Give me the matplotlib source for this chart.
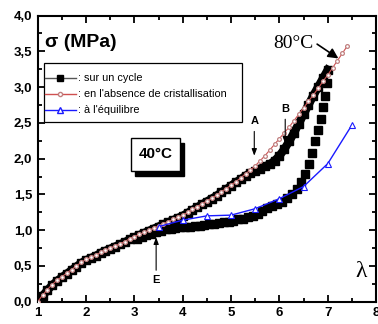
import matplotlib
matplotlib.use('Agg')
import matplotlib.pyplot as plt
from matplotlib.ticker import MultipleLocator, FuncFormatter
from matplotlib.patches import Rectangle
from matplotlib.lines import Line2D

plt.rcParams['font.family'] = ['Liberation Sans', 'DejaVu Sans']

# absence de cristallisation (red circles)
x_abs = [1.0, 1.1, 1.2, 1.3, 1.4, 1.5, 1.6, 1.7, 1.8, 1.9, 2.0, 2.1, 2.2, 2.3, 2.4, 2.5,
         2.6, 2.7, 2.8, 2.9, 3.0, 3.1, 3.2, 3.3, 3.4, 3.5, 3.6, 3.7, 3.8, 3.9, 4.0, 4.1,
         4.2, 4.3, 4.4, 4.5, 4.6, 4.7, 4.8, 4.9, 5.0, 5.1, 5.2, 5.3, 5.4, 5.5, 5.6, 5.7,
         5.8, 5.9, 6.0, 6.1, 6.2, 6.3, 6.4, 6.5, 6.6, 6.7, 6.8, 6.9, 7.0, 7.1, 7.2, 7.3, 7.4]
y_abs = [0.00, 0.09, 0.17, 0.24, 0.30, 0.35, 0.40, 0.45, 0.50, 0.55, 0.59, 0.62, 0.65, 0.69,
         0.72, 0.75, 0.78, 0.81, 0.84, 0.88, 0.91, 0.94, 0.97, 1.00, 1.03, 1.06, 1.09, 1.12,
         1.15, 1.18, 1.21, 1.25, 1.29, 1.33, 1.37, 1.41, 1.45, 1.49, 1.54, 1.58, 1.63, 1.68,
         1.73, 1.79, 1.84, 1.90, 1.97, 2.04, 2.12, 2.20, 2.28, 2.36, 2.44, 2.53, 2.62, 2.71,
         2.80, 2.89, 2.98, 3.08, 3.17, 3.27, 3.37, 3.47, 3.57]

# sur un cycle : charge
x_load = [1.0, 1.1, 1.2, 1.3, 1.4, 1.5, 1.6, 1.7, 1.8, 1.9, 2.0, 2.1, 2.2, 2.3, 2.4, 2.5,
          2.6, 2.7, 2.8, 2.9, 3.0, 3.1, 3.2, 3.3, 3.4, 3.5, 3.6, 3.7, 3.8, 3.9, 4.0, 4.1,
          4.2, 4.3, 4.4, 4.5, 4.6, 4.7, 4.8, 4.9, 5.0, 5.1, 5.2, 5.3, 5.4, 5.5, 5.6, 5.7,
          5.8, 5.9, 6.0, 6.1, 6.2, 6.3, 6.4, 6.5, 6.6, 6.7, 6.8, 6.9, 7.0]
y_load = [0.00, 0.08, 0.16, 0.23, 0.29, 0.34, 0.39, 0.44, 0.49, 0.54, 0.58, 0.61, 0.64, 0.68,
          0.71, 0.74, 0.77, 0.80, 0.83, 0.87, 0.90, 0.93, 0.96, 0.99, 1.02, 1.05, 1.08, 1.11,
          1.14, 1.17, 1.20, 1.24, 1.28, 1.32, 1.36, 1.40, 1.44, 1.48, 1.53, 1.57, 1.62, 1.67,
          1.71, 1.76, 1.80, 1.83, 1.86, 1.89, 1.92, 1.97, 2.04, 2.13, 2.24, 2.36, 2.49, 2.62,
          2.75, 2.88, 3.00, 3.12, 3.24]

# sur un cycle : decharge
x_unload = [6.98, 6.95, 6.90, 6.85, 6.80, 6.74, 6.68, 6.61, 6.53, 6.45, 6.36, 6.26, 6.16,
            6.05, 5.95, 5.85, 5.75, 5.65, 5.55, 5.45, 5.35, 5.25, 5.15, 5.05, 4.95, 4.85,
            4.75, 4.65, 4.55, 4.45, 4.35, 4.25, 4.15, 4.05, 3.95, 3.85, 3.75, 3.65, 3.55,
            3.45, 3.35, 3.25, 3.15, 3.05]
y_unload = [3.05, 2.88, 2.72, 2.56, 2.40, 2.24, 2.08, 1.93, 1.79, 1.67, 1.57, 1.50, 1.45,
            1.40, 1.37, 1.34, 1.31, 1.27, 1.23, 1.20, 1.18, 1.16, 1.15, 1.13, 1.12, 1.11,
            1.10, 1.09, 1.08, 1.07, 1.06, 1.06, 1.05, 1.04, 1.04, 1.03, 1.02, 1.01, 0.99,
            0.97, 0.95, 0.93, 0.91, 0.88]

# a l'equilibre (blue triangles)
x_eq = [3.5, 4.0, 4.5, 5.0, 5.5, 6.0, 6.5, 7.0, 7.5]
y_eq = [1.05, 1.14, 1.20, 1.21, 1.30, 1.44, 1.61, 1.93, 2.47]

legend_labels = [': sur un cycle', ": en l'absence de cristallisation", ": à l'équilibre"]

red_line = '#d05050'
red_mk = '#c08080'

fig = plt.figure(figsize=(3.78, 3.24), dpi=100)
ax = fig.add_axes([0.0997, 0.0688, 0.8953, 0.8833])

ax.plot(x_load, y_load, color='black', lw=6, marker='s', ms=5.2, ls='-', zorder=2)
ax.plot(x_unload, y_unload, color='black', lw=0, marker='s', ms=5.2, zorder=2)
ax.plot(x_abs, y_abs, color=red_line, lw=0.8, marker='o', ms=2.7, mfc='white',
        mec=red_mk, mew=0.9, zorder=3)
ax.plot(x_eq, y_eq, color='#1a1aff', lw=1.0, marker='^', ms=5, mfc='white',
        mec='#1a1aff', mew=0.8, zorder=4)

ax.set_xlim(1, 8)
ax.set_ylim(0, 4)
ax.xaxis.set_major_locator(MultipleLocator(1))
ax.xaxis.set_minor_locator(MultipleLocator(0.5))
ax.yaxis.set_major_locator(MultipleLocator(0.5))
ax.yaxis.set_minor_locator(MultipleLocator(0.25))
ax.yaxis.set_major_formatter(FuncFormatter(lambda v, p: f'{v:.1f}'.replace('.', ',')))
ax.tick_params(which='both', direction='in', top=True, right=True, width=1.3)
ax.tick_params(which='major', length=5, labelsize=9.5, pad=4)
ax.tick_params(which='minor', length=3)
for lab in ax.get_xticklabels() + ax.get_yticklabels():
    lab.set_fontweight('bold')
for s in ax.spines.values():
    s.set_linewidth(1.5)

# texts
ax.text(0.022, 0.905, 'σ (MPa)', transform=ax.transAxes, fontsize=14, fontweight='bold',
        va='center', ha='left')
ax.text(7.68, 0.42, 'λ', fontsize=17, family='Liberation Serif', ha='center', va='center')
ax.text(6.29, 3.61, '80°C', fontsize=14, family='Liberation Serif', ha='center',
        va='center')
ax.annotate('', xy=(7.22, 3.40), xytext=(6.78, 3.60),
            arrowprops=dict(arrowstyle='-|>,head_length=0.6,head_width=0.3',
                            color='black', lw=1.2, shrinkA=0, shrinkB=0))

# 40°C box with shadow
ax.add_patch(Rectangle((3.02, 1.76), 1.0, 0.46, facecolor='black', edgecolor='black',
                       zorder=5))
ax.add_patch(Rectangle((2.94, 1.83), 1.0, 0.46, facecolor='white', edgecolor='black',
                       lw=1.0, zorder=6))
ax.text(3.44, 2.06, '40°C', fontsize=11, fontweight='bold', ha='center', va='center',
        zorder=7)

arrow = dict(arrowstyle='-|>,head_length=0.4,head_width=0.15', color='black', lw=0.8,
             shrinkA=0, shrinkB=0)
ax.annotate('', xy=(5.48, 2.04), xytext=(5.48, 2.38), arrowprops=arrow)
ax.text(5.48, 2.52, 'A', fontsize=8, fontweight='bold', ha='center', va='center')
ax.annotate('', xy=(6.12, 2.21), xytext=(6.12, 2.55), arrowprops=arrow)
ax.text(6.12, 2.7, 'B', fontsize=8, fontweight='bold', ha='center', va='center')
ax.annotate('', xy=(3.45, 0.9), xytext=(3.45, 0.44), arrowprops=arrow)
ax.text(3.45, 0.3, 'E', fontsize=8, fontweight='bold', ha='center', va='center')

# legend drawn by hand
ax.add_patch(Rectangle((0.0186, 0.6275), 0.5854, 0.2059, transform=ax.transAxes,
                       facecolor='white', edgecolor='black', lw=0.9, zorder=8))
rows = [0.7832, 0.7274, 0.6715]
handles = [('#555555', 's', 4, 'black', 'black'),
           (red_line, 'o', 3, 'white', red_mk),
           ('#1a1aff', '^', 4.5, 'white', '#1a1aff')]
for yy, (lc, mk, ms, mfc, mec), lab in zip(rows, handles, legend_labels):
    ax.add_line(Line2D([0.0213, 0.112], [yy, yy], transform=ax.transAxes, zorder=9,
                       color=lc, lw=1.0))
    ax.add_line(Line2D([0.067], [yy], transform=ax.transAxes, zorder=10, ls='none',
                       marker=mk, ms=ms, mfc=mfc, mec=mec))
    ax.text(0.118, yy, lab, transform=ax.transAxes, fontsize=7.8, va='center', ha='left',
            zorder=10)

fig.savefig('out.png', dpi=100)
